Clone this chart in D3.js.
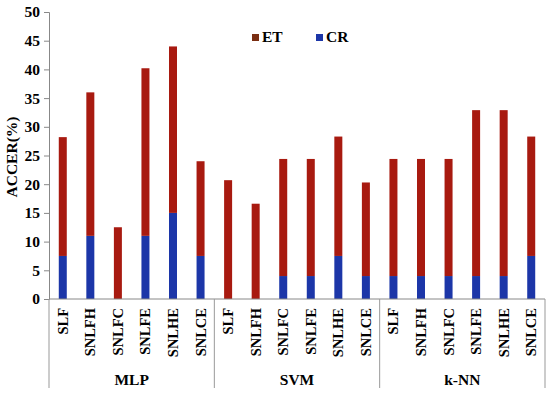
<!DOCTYPE html>
<html><head><meta charset="utf-8">
<script src="https://cdn.jsdelivr.net/npm/d3@7"></script>
<style>body{margin:0;background:#fff}svg{display:block}
svg text{font-family:"Liberation Serif","DejaVu Serif",serif;font-weight:bold;fill:#000}</style>
</head><body>
<svg id="c" width="550" height="394"></svg>
<script>
const groups = ["MLP", "SVM", "k-NN"];
const methods = ["SLF", "SNLFH", "SNLFC", "SNLFE", "SNLHE", "SNLCE"];
const crValues = [7.5, 11, 0, 11, 15, 7.5,  0, 0, 4, 4, 7.5, 4,  4, 4, 4, 4, 4, 7.5];
const totalValues = [28.2, 36, 12.5, 40.2, 44, 24,  20.7, 16.6, 24.4, 24.4, 28.3, 20.3,  24.4, 24.4, 24.4, 32.9, 32.9, 28.3];
const yTicks = [0, 5, 10, 15, 20, 25, 30, 35, 40, 45, 50];
const seriesNames = ["ET", "CR"];
const colors = {ET: "#a81a10", CR: "#1c36a8"};

const rows = [];
groups.forEach((g, gi) => methods.forEach((m, mi) => {
  const i = gi * methods.length + mi;
  rows.push({key: g + "|" + m, group: g, method: m, CR: crValues[i], ET: totalValues[i] - crValues[i]});
}));

const svg = d3.select("#c");
const L = 49, R = 545, T = 12, B = 299;

const x = d3.scaleBand().domain(rows.map(d => d.key)).range([L, R]).paddingInner(0).paddingOuter(0);
const y = d3.scaleLinear().domain([0, 50]).range([B, T]);
const barW = 8;

const stack = d3.stack().keys(["CR", "ET"])(rows);
svg.append("g").selectAll("g").data(stack).join("g")
  .attr("fill", s => colors[s.key])
  .selectAll("rect").data(s => s).join("rect")
  .attr("x", d => x(d.data.key) + x.bandwidth() / 2 - barW / 2)
  .attr("width", barW)
  .attr("y", d => y(d[1]))
  .attr("height", d => Math.max(0, y(d[0]) - y(d[1])));

// Y axis
const yAxis = svg.append("g").attr("transform", `translate(${L},0)`)
  .call(d3.axisLeft(y).tickValues(yTicks).tickSize(5).tickPadding(4));
yAxis.attr("font-family", null).attr("font-size", null);
yAxis.select(".domain").attr("stroke", "#888");
yAxis.selectAll(".tick line").attr("stroke", "#888");
yAxis.selectAll("text").style("font-size", "15.5px");

// X axis line
svg.append("line").attr("x1", L).attr("x2", R).attr("y1", B).attr("y2", B).attr("stroke", "#888");

// group separators
const sepXs = [L, ...groups.map((g, gi) => x(g + "|" + methods[methods.length - 1]) + x.bandwidth())];
svg.append("g").selectAll("line").data(sepXs).join("line")
  .attr("x1", d => d).attr("x2", d => d).attr("y1", B).attr("y2", 388)
  .attr("stroke", "#999");

// category labels
svg.append("g").selectAll("text").data(rows).join("text")
  .attr("transform", d => `translate(${x(d.key) + x.bandwidth() / 2 + 5},308) rotate(-90)`)
  .attr("text-anchor", "end")
  .style("font-size", "14.5px")
  .text(d => d.method);

// group labels
svg.append("g").selectAll("text").data(groups).join("text")
  .attr("x", g => (x(g + "|" + methods[0]) + x(g + "|" + methods[methods.length - 1]) + x.bandwidth()) / 2)
  .attr("y", 385)
  .attr("text-anchor", "middle")
  .style("font-size", "15.5px")
  .text(g => g);

// y label
svg.append("text")
  .attr("transform", `translate(17,157) rotate(-90)`)
  .attr("text-anchor", "middle")
  .style("font-size", "15.5px")
  .text("ACCER(%)");

// legend
const legX = [252, 316];
const leg = svg.append("g").selectAll("g").data(seriesNames).join("g")
  .attr("transform", (d, i) => `translate(${legX[i]},34)`);
leg.append("rect").attr("width", 7).attr("height", 7).attr("fill", d => d === "ET" ? "#7a2e12" : colors[d]);
leg.append("text").attr("x", 10).attr("y", 8)
  .style("font-size", "15.5px")
  .text(d => d);
</script>
</body></html>
